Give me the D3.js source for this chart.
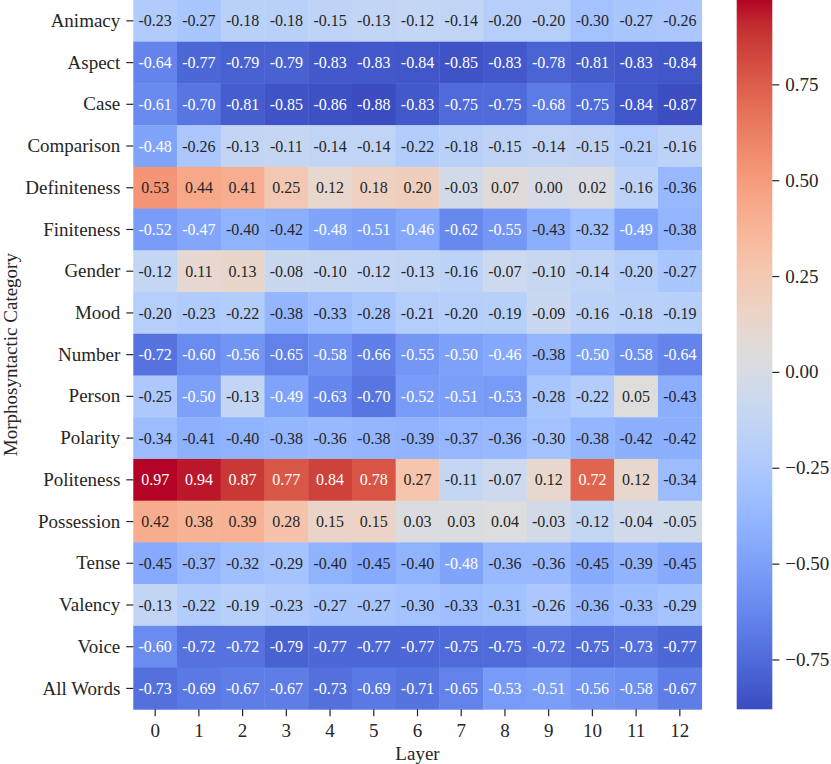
<!DOCTYPE html>
<html lang="en">
<head>
  <meta charset="UTF-8" />
  <title>Morphosyntactic Category by Layer</title>
  <script src="https://d3js.org/d3.v7.min.js"></script>
  <style>
    body {
      margin: 0;
      background: #fff;
      font-family: "Liberation Serif", "Times New Roman", serif;
    }
    svg { display: block; }
    .tick text { font-family: "Liberation Serif", "Times New Roman", serif; font-size: 19px; fill: #262626; }
    .tick line { stroke: #262626; stroke-width: 1.2; }
    .domain { display: none; }
    .label { font-size: 19px; fill: #262626; }
    .annot { font-size: 16px; }
  </style>
</head>
<body>
  <svg width="831" height="764"></svg>

  <script>
    const layers = [0, 1, 2, 3, 4, 5, 6, 7, 8, 9, 10, 11, 12];
    const categories = [
      "Animacy", "Aspect", "Case", "Comparison", "Definiteness", "Finiteness",
      "Gender", "Mood", "Number", "Person", "Polarity", "Politeness",
      "Possession", "Tense", "Valency", "Voice", "All Words"
    ];

    // one row per category, one value per layer
    const animacy      = [-0.23, -0.27, -0.18, -0.18, -0.15, -0.13, -0.12, -0.14, -0.20, -0.20, -0.30, -0.27, -0.26];
    const aspect       = [-0.64, -0.77, -0.79, -0.79, -0.83, -0.83, -0.84, -0.85, -0.83, -0.78, -0.81, -0.83, -0.84];
    const caseRow      = [-0.61, -0.70, -0.81, -0.85, -0.86, -0.88, -0.83, -0.75, -0.75, -0.68, -0.75, -0.84, -0.87];
    const comparison   = [-0.48, -0.26, -0.13, -0.11, -0.14, -0.14, -0.22, -0.18, -0.15, -0.14, -0.15, -0.21, -0.16];
    const definiteness = [ 0.53,  0.44,  0.41,  0.25,  0.12,  0.18,  0.20, -0.03,  0.07,  0.00,  0.02, -0.16, -0.36];
    const finiteness   = [-0.52, -0.47, -0.40, -0.42, -0.48, -0.51, -0.46, -0.62, -0.55, -0.43, -0.32, -0.49, -0.38];
    const gender       = [-0.12,  0.11,  0.13, -0.08, -0.10, -0.12, -0.13, -0.16, -0.07, -0.10, -0.14, -0.20, -0.27];
    const mood         = [-0.20, -0.23, -0.22, -0.38, -0.33, -0.28, -0.21, -0.20, -0.19, -0.09, -0.16, -0.18, -0.19];
    const number       = [-0.72, -0.60, -0.56, -0.65, -0.58, -0.66, -0.55, -0.50, -0.46, -0.38, -0.50, -0.58, -0.64];
    const person       = [-0.25, -0.50, -0.13, -0.49, -0.63, -0.70, -0.52, -0.51, -0.53, -0.28, -0.22,  0.05, -0.43];
    const polarity     = [-0.34, -0.41, -0.40, -0.38, -0.36, -0.38, -0.39, -0.37, -0.36, -0.30, -0.38, -0.42, -0.42];
    const politeness   = [ 0.97,  0.94,  0.87,  0.77,  0.84,  0.78,  0.27, -0.11, -0.07,  0.12,  0.72,  0.12, -0.34];
    const possession   = [ 0.42,  0.38,  0.39,  0.28,  0.15,  0.15,  0.03,  0.03,  0.04, -0.03, -0.12, -0.04, -0.05];
    const tense        = [-0.45, -0.37, -0.32, -0.29, -0.40, -0.45, -0.40, -0.48, -0.36, -0.36, -0.45, -0.39, -0.45];
    const valency      = [-0.13, -0.22, -0.19, -0.23, -0.27, -0.27, -0.30, -0.33, -0.31, -0.26, -0.36, -0.33, -0.29];
    const voice        = [-0.60, -0.72, -0.72, -0.79, -0.77, -0.77, -0.77, -0.75, -0.75, -0.72, -0.75, -0.73, -0.77];
    const allWords     = [-0.73, -0.69, -0.67, -0.67, -0.73, -0.69, -0.71, -0.65, -0.53, -0.51, -0.56, -0.58, -0.67];

    const rows = [animacy, aspect, caseRow, comparison, definiteness, finiteness, gender, mood,
                  number, person, polarity, politeness, possession, tense, valency, voice, allWords];

    const cbTicks = [-0.75, -0.5, -0.25, 0, 0.25, 0.5, 0.75];

    // matplotlib "coolwarm" (Moreland) stops
    const coolwarm = [
      [59,76,192],[68,90,204],[77,104,215],[87,117,225],[98,130,234],[108,142,241],
      [119,154,247],[130,165,251],[141,176,254],[152,185,255],[163,194,255],[174,201,253],
      [184,208,249],[194,213,244],[204,217,238],[213,219,230],[221,221,221],[229,216,209],
      [236,211,197],[241,204,185],[245,196,173],[247,187,160],[247,177,148],[247,166,135],
      [244,154,123],[241,141,111],[236,127,99],[229,112,89],[222,96,77],[213,80,66],
      [203,62,56],[192,40,47],[180,4,38]
    ].map(c => `rgb(${c[0]},${c[1]},${c[2]})`);

    const cells = [];
    rows.forEach((r, i) => r.forEach((v, j) => cells.push({ cat: categories[i], layer: layers[j], v })));

    const [vmin, vmax] = d3.extent(cells, d => d.v);
    const norm = d3.scaleLinear().domain([vmin, vmax]).range([0, 1]).clamp(true);
    const cmap = d3.scaleLinear()
      .domain(d3.range(coolwarm.length).map(i => i / (coolwarm.length - 1)))
      .range(coolwarm)
      .interpolate(d3.interpolateRgb);
    const color = v => cmap(norm(v));

    function luminance(c) {
      const rgb = d3.rgb(c);
      const lin = x => { x /= 255; return x <= 0.03928 ? x / 12.92 : Math.pow((x + 0.055) / 1.055, 2.4); };
      return 0.2126 * lin(rgb.r) + 0.7152 * lin(rgb.g) + 0.0722 * lin(rgb.b);
    }

    const svg = d3.select("svg");
    const hm = { left: 133.3, top: 0, right: 701.7, bottom: 709.3 };

    const x = d3.scaleBand().domain(layers).range([hm.left, hm.right]);
    const y = d3.scaleBand().domain(categories).range([hm.top, hm.bottom]);

    svg.append("g")
      .selectAll("rect")
      .data(cells)
      .enter()
      .append("rect")
      .attr("x", d => x(d.layer))
      .attr("y", d => y(d.cat))
      .attr("width", x.bandwidth() + 0.4)
      .attr("height", y.bandwidth() + 0.4)
      .attr("fill", d => color(d.v));

    svg.append("g")
      .selectAll("text")
      .data(cells)
      .enter()
      .append("text")
      .attr("class", "annot")
      .attr("x", d => x(d.layer) + x.bandwidth() / 2)
      .attr("y", d => y(d.cat) + y.bandwidth() / 2)
      .attr("text-anchor", "middle")
      .attr("dy", "0.35em")
      .attr("fill", d => luminance(color(d.v)) > 0.408 ? "#262626" : "#ffffff")
      .text(d => d.v.toFixed(2));

    svg.append("g")
      .attr("transform", `translate(0,${hm.bottom})`)
      .call(d3.axisBottom(x).tickSize(7).tickPadding(5))
      .call(g => g.selectAll(".tick text").attr("dy", "0.85em"));

    svg.append("g")
      .attr("transform", `translate(${hm.left},0)`)
      .call(d3.axisLeft(y).tickSize(7).tickPadding(6));

    svg.append("text")
      .attr("class", "label")
      .attr("x", (hm.left + hm.right) / 2)
      .attr("y", 760)
      .attr("text-anchor", "middle")
      .text("Layer");

    svg.append("text")
      .attr("class", "label")
      .attr("transform", `translate(17,${(hm.top + hm.bottom) / 2}) rotate(-90)`)
      .attr("text-anchor", "middle")
      .text("Morphosyntactic Category");

    // colorbar
    const cb = { left: 736.7, right: 772.3 };
    const cbScale = d3.scaleLinear().domain([vmin, vmax]).range([hm.bottom, hm.top]);

    const grad = svg.append("defs").append("linearGradient")
      .attr("id", "cbgrad")
      .attr("x1", 0).attr("y1", 1).attr("x2", 0).attr("y2", 0);
    grad.selectAll("stop")
      .data(coolwarm)
      .enter()
      .append("stop")
      .attr("offset", (d, i) => i / (coolwarm.length - 1))
      .attr("stop-color", d => d);

    svg.append("rect")
      .attr("x", cb.left)
      .attr("y", hm.top)
      .attr("width", cb.right - cb.left)
      .attr("height", hm.bottom - hm.top)
      .attr("fill", "url(#cbgrad)");

    svg.append("g")
      .attr("transform", `translate(${cb.right},0)`)
      .call(d3.axisRight(cbScale)
        .tickValues(cbTicks)
        .tickSize(7)
        .tickPadding(6)
        .tickFormat(d => (d < 0 ? "\u2212" : "") + Math.abs(d).toFixed(2)));
  </script>
</body>
</html>
